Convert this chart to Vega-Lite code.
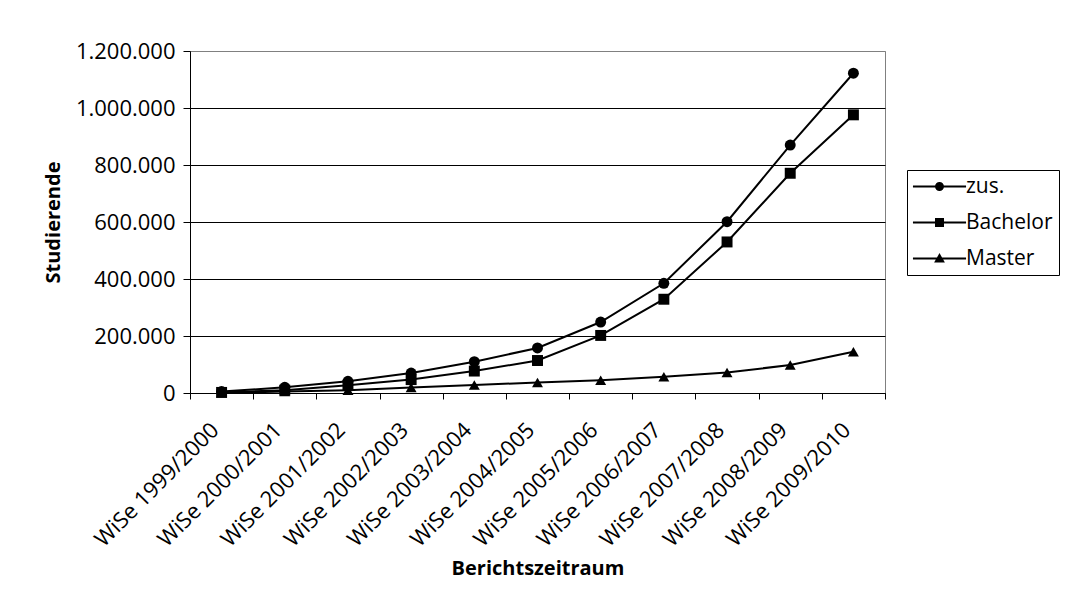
{
  "$schema": "https://vega.github.io/schema/vega-lite/v6.json",
  "width": 695,
  "height": 342,
  "autosize": {"type": "none"},
  "padding": {"left": 190, "top": 51, "right": 187, "bottom": 208},
  "background": "white",
  "config": {
    "locale": {"number": {"decimal": ",", "thousands": ".", "grouping": [3], "currency": ["", " €"]}},
    "font": "Open Sans",
    "view": {"stroke": "#808080", "strokeWidth": 1}
  },
  "data": {
    "values": [
      {"Zeitraum": "WiSe 1999/2000", "Reihe": "zus.", "Anzahl": 5000},
      {"Zeitraum": "WiSe 2000/2001", "Reihe": "zus.", "Anzahl": 20000},
      {"Zeitraum": "WiSe 2001/2002", "Reihe": "zus.", "Anzahl": 41000},
      {"Zeitraum": "WiSe 2002/2003", "Reihe": "zus.", "Anzahl": 70000},
      {"Zeitraum": "WiSe 2003/2004", "Reihe": "zus.", "Anzahl": 110000},
      {"Zeitraum": "WiSe 2004/2005", "Reihe": "zus.", "Anzahl": 158000},
      {"Zeitraum": "WiSe 2005/2006", "Reihe": "zus.", "Anzahl": 249000},
      {"Zeitraum": "WiSe 2006/2007", "Reihe": "zus.", "Anzahl": 385000},
      {"Zeitraum": "WiSe 2007/2008", "Reihe": "zus.", "Anzahl": 601000},
      {"Zeitraum": "WiSe 2008/2009", "Reihe": "zus.", "Anzahl": 870000},
      {"Zeitraum": "WiSe 2009/2010", "Reihe": "zus.", "Anzahl": 1122000},
      {"Zeitraum": "WiSe 1999/2000", "Reihe": "Bachelor", "Anzahl": 2000},
      {"Zeitraum": "WiSe 2000/2001", "Reihe": "Bachelor", "Anzahl": 10000},
      {"Zeitraum": "WiSe 2001/2002", "Reihe": "Bachelor", "Anzahl": 27000},
      {"Zeitraum": "WiSe 2002/2003", "Reihe": "Bachelor", "Anzahl": 47000},
      {"Zeitraum": "WiSe 2003/2004", "Reihe": "Bachelor", "Anzahl": 77000},
      {"Zeitraum": "WiSe 2004/2005", "Reihe": "Bachelor", "Anzahl": 114000},
      {"Zeitraum": "WiSe 2005/2006", "Reihe": "Bachelor", "Anzahl": 202000},
      {"Zeitraum": "WiSe 2006/2007", "Reihe": "Bachelor", "Anzahl": 329000},
      {"Zeitraum": "WiSe 2007/2008", "Reihe": "Bachelor", "Anzahl": 530000},
      {"Zeitraum": "WiSe 2008/2009", "Reihe": "Bachelor", "Anzahl": 771000},
      {"Zeitraum": "WiSe 2009/2010", "Reihe": "Bachelor", "Anzahl": 976000},
      {"Zeitraum": "WiSe 1999/2000", "Reihe": "Master", "Anzahl": 1000},
      {"Zeitraum": "WiSe 2000/2001", "Reihe": "Master", "Anzahl": 5000},
      {"Zeitraum": "WiSe 2001/2002", "Reihe": "Master", "Anzahl": 10000},
      {"Zeitraum": "WiSe 2002/2003", "Reihe": "Master", "Anzahl": 19000},
      {"Zeitraum": "WiSe 2003/2004", "Reihe": "Master", "Anzahl": 28000},
      {"Zeitraum": "WiSe 2004/2005", "Reihe": "Master", "Anzahl": 37000},
      {"Zeitraum": "WiSe 2005/2006", "Reihe": "Master", "Anzahl": 45000},
      {"Zeitraum": "WiSe 2006/2007", "Reihe": "Master", "Anzahl": 57000},
      {"Zeitraum": "WiSe 2007/2008", "Reihe": "Master", "Anzahl": 72000},
      {"Zeitraum": "WiSe 2008/2009", "Reihe": "Master", "Anzahl": 98000},
      {"Zeitraum": "WiSe 2009/2010", "Reihe": "Master", "Anzahl": 145000}
    ]
  },
  "encoding": {
    "x": {
      "field": "Zeitraum",
      "type": "nominal",
      "sort": null,
      "scale": {"type": "band", "paddingInner": 0, "paddingOuter": 0},
      "axis": {
        "title": "Berichtszeitraum",
        "labelAngle": -45,
        "tickBand": "extent",
        "tickSize": 6,
        "tickColor": "black",
        "domainColor": "black",
        "labelFontSize": 22,
        "labelColor": "black",
        "labelPadding": 20,
        "labelOffset": -14,
        "titleFontSize": 20,
        "titleFontWeight": "bold",
        "titleColor": "black",
        "titlePadding": 8,
        "grid": false
      }
    },
    "y": {
      "field": "Anzahl",
      "type": "quantitative",
      "scale": {"domain": [0, 1200000], "nice": false},
      "axis": {
        "title": "Studierende",
        "values": [0, 200000, 400000, 600000, 800000, 1000000, 1200000],
        "format": ",d",
        "grid": true,
        "gridColor": {"condition": {"test": "datum.value === 1200000", "value": "#808080"}, "value": "black"},
        "gridOpacity": 1,
        "tickSize": 7,
        "tickColor": "black",
        "domainColor": "black",
        "labelFontSize": 22,
        "labelColor": "black",
        "labelPadding": 8,
        "titleFontSize": 20,
        "titleFontWeight": "bold",
        "titleColor": "black",
        "titlePadding": 12
      }
    }
  },
  "layer": [
    {
      "mark": {"type": "line", "color": "black", "strokeWidth": 2},
      "encoding": {"detail": {"field": "Reihe", "type": "nominal"}}
    },
    {
      "transform": [{"filter": "datum.Reihe === 'zus.'"}],
      "mark": {"type": "point", "shape": "circle", "filled": true, "color": "black", "size": 120, "opacity": 1},
      "encoding": {}
    },
    {
      "transform": [{"filter": "datum.Reihe === 'Bachelor'"}],
      "mark": {"type": "point", "shape": "square", "filled": true, "color": "black", "size": 120, "opacity": 1},
      "encoding": {}
    },
    {
      "transform": [{"filter": "datum.Reihe === 'Master'"}],
      "mark": {"type": "point", "shape": "triangle-up", "filled": true, "color": "black", "size": 120, "opacity": 1},
      "encoding": {}
    },
    {
      "mark": {"type": "point", "filled": true, "color": "black", "size": 1, "opacity": 0},
      "encoding": {
        "shape": {
          "field": "Reihe",
          "type": "nominal",
          "scale": {
            "domain": ["zus.", "Bachelor", "Master"],
            "range": [
              "M-5.9,-0.22H5.9V0.22H-5.9ZM-1,0A1,1,0,1,1,1,0A1,1,0,1,1,-1,0Z",
              "M-5.9,-0.22H5.9V0.22H-5.9ZM-1,-1H1V1H-1Z",
              "M-5.9,-0.22H5.9V0.22H-5.9ZM0,-1.2L1.2,0.9H-1.2Z"
            ]
          },
          "legend": {
            "title": null,
            "orient": "none",
            "legendX": 717,
            "legendY": 119,
            "strokeColor": "black",
            "fillColor": "white",
            "padding": 6,
            "labelFontSize": 21,
            "labelColor": "black",
            "symbolSize": 81,
            "symbolStrokeWidth": 0,
            "symbolFillColor": "black",
            "symbolOpacity": 1,
            "symbolOffset": 16,
            "labelOffset": 16,
            "rowPadding": 14
          }
        }
      }
    }
  ]
}
